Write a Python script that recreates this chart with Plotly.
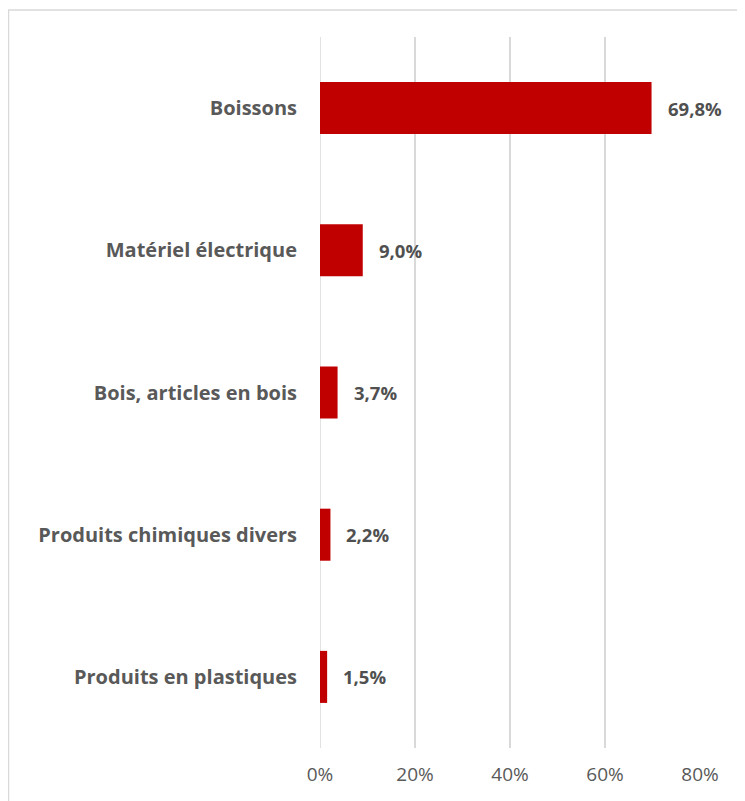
import plotly.graph_objects as go

categories = ["Boissons", "Matériel électrique", "Bois, articles en bois",
              "Produits chimiques divers", "Produits en plastiques"]
values = [69.8, 9.0, 3.7, 2.2, 1.5]
tick_vals = [0, 20, 40, 60, 80]
tick_text = ["0%", "20%", "40%", "60%", "80%"]

labels = [f"{v:.1f}%".replace(".", ",") for v in values]

W, H = 745, 801
# page has an 8px body margin; positions below are in figure pixels
ml, mr, mt, mb = 312, 53, 29, 61
pw = W - ml - mr
ph = H - mt - mb

fig = go.Figure()
fig.add_trace(go.Bar(
    x=values, y=categories, orientation="h",
    marker=dict(color="#C00000", line=dict(width=0)),
    width=0.366, hoverinfo="skip",
))

for c, v, t in zip(categories, values, labels):
    fig.add_annotation(x=v, y=c, text=f"<b>{t}</b>", showarrow=False,
                       xanchor="left", xshift=14,
                       font=dict(family="Open Sans", size=18.5, color="#505050"))

def px_to_paper_x(px):
    return (px - ml) / pw

def px_to_paper_y(py):
    return (H - mb - py) / ph

fig.add_shape(type="rect", xref="paper", yref="paper",
              x0=px_to_paper_x(0.5), x1=px_to_paper_x(780),
              y0=px_to_paper_y(840), y1=px_to_paper_y(2),
              line=dict(color="#D9D9D9", width=1.5), fillcolor="rgba(0,0,0,0)",
              layer="below")

fig.update_layout(
    width=W, height=H,
    margin=dict(l=ml, r=mr, t=mt, b=mb),
    paper_bgcolor="white", plot_bgcolor="white",
    showlegend=False,
    font=dict(family="Open Sans", color="#595959"),
    xaxis=dict(range=[0, 80], tickvals=tick_vals, ticktext=tick_text,
               showgrid=True, gridcolor="#D9D9D9", gridwidth=1.5,
               zeroline=False, showline=False, ticks="", ticklabelstandoff=13,
               tickfont=dict(size=19, color="#595959"), fixedrange=True),
    yaxis=dict(categoryorder="array", categoryarray=categories,
               autorange="reversed", showgrid=False, zeroline=False,
               showline=False, ticks="", ticklabelstandoff=22,
               tickfont=dict(size=20, color="#595959", weight="bold")),
)
fig.add_shape(type="line", xref="x", yref="paper", x0=0, x1=0, y0=0, y1=1,
              line=dict(color="#D9D9D9", width=1.5), layer="below")

fig.write_html("out.html")
